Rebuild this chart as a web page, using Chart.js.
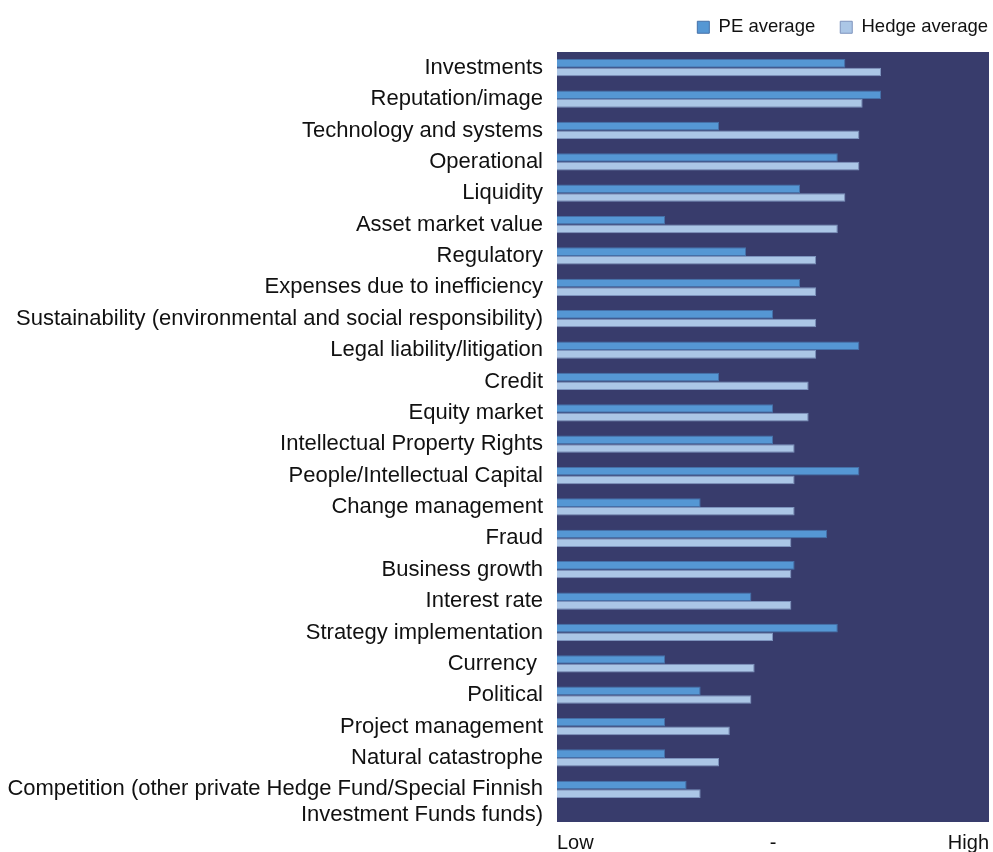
<!DOCTYPE html>
<html>
<head>
<meta charset="utf-8">
<script src="https://cdn.jsdelivr.net/npm/chart.js@4.4.1/dist/chart.umd.min.js"></script>
<style>
  html, body { margin: 0; padding: 0; background: #ffffff; }
  #wrap { width: 993px; height: 852px; }
</style>
</head>
<body>
<div id="wrap"><canvas id="myChart" width="993" height="852"></canvas></div>
<script>
// risk categories, top to bottom
const categories = [
    'Investments',
    'Reputation/image',
    'Technology and systems',
    'Operational',
    'Liquidity',
    'Asset market value',
    'Regulatory',
    'Expenses due to inefficiency',
    'Sustainability (environmental and social responsibility)',
    'Legal liability/litigation',
    'Credit',
    'Equity market',
    'Intellectual Property Rights',
    'People/Intellectual Capital',
    'Change management',
    'Fraud',
    'Business growth',
    'Interest rate',
    'Strategy implementation',
    'Currency ',
    'Political',
    'Project management',
    'Natural catastrophe',
    // blank first line pushes the two-line label down a little, like the original
    ['', 'Competition (other private Hedge Fund/Special Finnish', 'Investment Funds funds)']
];

// scores on a 1 (Low) .. 5 (High) scale
const peAverage = [3.67, 4.0, 2.5, 3.6, 3.25, 2.0, 2.75, 3.25, 3.0, 3.8, 2.5, 3.0,
    3.0, 3.8, 2.33, 3.5, 3.2, 2.8, 3.6, 2.0, 2.33, 2.0, 2.0, 2.2];
const hedgeAverage = [4.0, 3.83, 3.8, 3.8, 3.67, 3.6, 3.4, 3.4, 3.4, 3.4, 3.33, 3.33,
    3.2, 3.2, 3.2, 3.17, 3.17, 3.17, 3.0, 2.83, 2.8, 2.6, 2.5, 2.33];

const scaleMin = 1;
const scaleMax = 5;
const tickLabels = { 1: 'Low', 3: '-', 5: 'High' };

const FONT = '"Liberation Sans", Arial, sans-serif';

// dark panel behind the bars (runs a little below the last category)
const plotBackground = {
    id: 'plotBackground',
    beforeDatasetsDraw(chart) {
        const { ctx, chartArea } = chart;
        ctx.save();
        ctx.fillStyle = '#383c6c';
        ctx.fillRect(chartArea.left, chartArea.top, chartArea.right - chartArea.left, chartArea.bottom - chartArea.top + 17);
        ctx.restore();
    }
};

// fixed legend height, and let the items run up to the right edge
const legendFit = {
    id: 'legendFit',
    afterInit(chart) {
        const legend = chart.legend;
        const fit = legend.fit;
        legend.fit = function () {
            fit.call(this);
            this.height = 59;
        };
    },
    afterLayout(chart) {
        chart.legend.right += 24;
    }
};

const ctx = document.getElementById('myChart').getContext('2d');
new Chart(ctx, {
    type: 'bar',
    data: {
        labels: categories,
        datasets: [
            {
                label: 'PE average',
                data: peAverage,
                backgroundColor: '#5597d4',
                borderColor: '#4570a8',
                borderWidth: 1,
                borderSkipped: 'start',
                barPercentage: 1.0,
                categoryPercentage: 0.55
            },
            {
                label: 'Hedge average',
                data: hedgeAverage,
                backgroundColor: '#abc6e6',
                borderColor: '#7d93bd',
                borderWidth: 1,
                borderSkipped: 'start',
                barPercentage: 1.0,
                categoryPercentage: 0.55
            }
        ]
    },
    options: {
        indexAxis: 'y',
        responsive: false,
        animation: false,
        layout: {
            padding: { left: 0, right: 4, top: -7, bottom: 0 }
        },
        plugins: {
            legend: {
                position: 'top',
                align: 'end',
                labels: {
                    boxWidth: 12,
                    boxHeight: 12,
                    padding: 25,
                    color: '#111111',
                    font: { family: FONT, size: 18.5 }
                }
            },
            tooltip: { enabled: false }
        },
        scales: {
            x: {
                min: scaleMin,
                max: scaleMax,
                grid: { display: false, drawTicks: false },
                border: { display: false },
                afterBuildTicks(scale) {
                    scale.ticks = Object.keys(tickLabels).map(v => ({ value: Number(v) }));
                },
                afterFit(scale) {
                    scale.height = 47;
                    scale.paddingLeft = 0;
                    scale.paddingRight = 0;
                },
                ticks: {
                    align: 'inner',
                    padding: 26,
                    maxRotation: 0,
                    color: '#111111',
                    font: { family: FONT, size: 20 },
                    callback: (v) => tickLabels[v]
                }
            },
            y: {
                grid: { display: false, drawTicks: false },
                border: { display: false },
                afterFit(scale) {
                    scale.width = 557;
                    scale.paddingTop = 0;
                    scale.paddingBottom = 0;
                },
                ticks: {
                    padding: 14,
                    autoSkip: false,
                    color: '#111111',
                    font: { family: FONT, size: 22, lineHeight: 1.15 }
                }
            }
        }
    },
    plugins: [plotBackground, legendFit]
});
</script>
</body>
</html>
